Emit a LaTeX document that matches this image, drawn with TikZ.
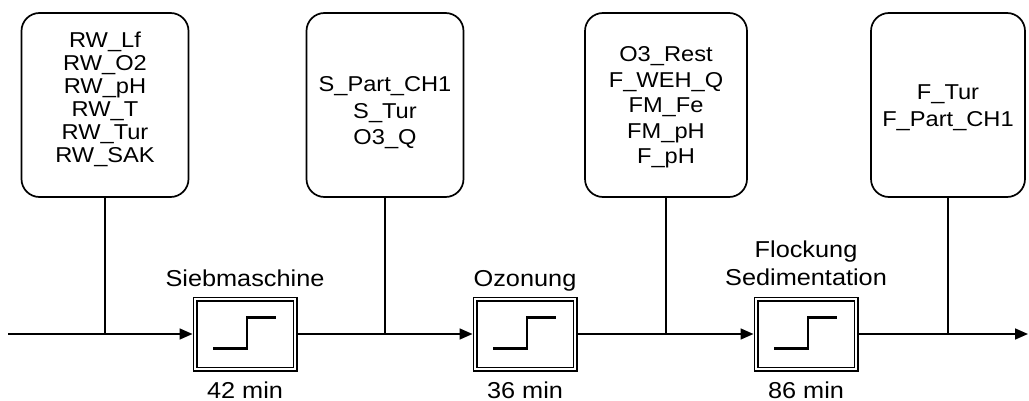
\documentclass[tikz,border=0pt]{standalone}
\usepackage{fontspec}
\setmainfont{Liberation Sans}[FakeStretch=1.1]
\usetikzlibrary{arrows.meta}
\begin{document}
\begin{tikzpicture}[x=1pt,y=-1pt,
  line width=1.7pt,
  sigbox/.style={draw, rounded corners=18pt, line width=1.7pt, minimum height=184pt, inner sep=0pt},
  boxtxt/.style={anchor=base, inner sep=0pt, font=\fontsize{21.5}{23}\selectfont},
  lbl/.style={anchor=base, inner sep=0pt, font=\fontsize{23}{28}\selectfont},
  delay/.style={draw, line width=1.4pt, double, double distance=2.2pt, minimum width=100pt, minimum height=70pt, inner sep=0pt, outer sep=2.5pt},
  flow/.style={-{Triangle[length=13pt,width=11pt]}, line width=1.7pt},
  stepline/.style={line width=2.8pt},
]
\useasboundingbox (0,0) rectangle (1029,401);

% signal boxes
\node[sigbox, minimum width=167pt] (box1) at (105,105) {};
\node[sigbox, minimum width=157pt] (box2) at (385,105) {};
\node[sigbox, minimum width=162pt] (box3) at (666,105) {};
\node[sigbox, minimum width=154pt] (box4) at (948,105) {};

\foreach \t [count=\i] in {RW\_Lf,RW\_O2,RW\_pH,RW\_T,RW\_Tur,RW\_SAK}
  \node[boxtxt] (b1t\i) at (105,{48+23*(\i-1)}) {\t};
\foreach \t [count=\i] in {S\_Part\_CH1,S\_Tur,O3\_Q}
  \node[boxtxt] (b2t\i) at (385,{92+26.5*(\i-1)}) {\t};
\foreach \t [count=\i] in {O3\_Rest,F\_WEH\_Q,FM\_Fe,FM\_pH,F\_pH}
  \node[boxtxt] (b3t\i) at (666,{62+25.5*(\i-1)}) {\t};
\foreach \t [count=\i] in {F\_Tur,F\_Part\_CH1}
  \node[boxtxt] (b4t\i) at (948,{100+27*(\i-1)}) {\t};

% delay blocks
\node[delay] (blk1) at (245,334) {};
\node[delay] (blk2) at (525,334) {};
\node[delay] (blk3) at (806,334) {};
\foreach \b in {blk1,blk2,blk3}
  \draw[stepline] (\b.center) ++(-32,14.5) -- ++(34,0) -- ++(0,-31) -- ++(29,0);

% labels
\node[lbl] (l1) at (245,286) {Siebmaschine};
\node[lbl] (l2) at (525,286) {Ozonung};
\node[lbl] (l3a) at (806,257) {Flockung};
\node[lbl] (l3b) at (806,285) {Sedimentation};
\node[lbl] (t1) at (245,398) {42 min};
\node[lbl] (t2) at (525,398) {36 min};
\node[lbl] (t3) at (806,398) {86 min};

% main flow
\coordinate (start) at (8,334);
\coordinate (end) at (1028,334);
\draw[flow] (start) -- (blk1);
\draw[flow] (blk1) -- (blk2);
\draw[flow] (blk2) -- (blk3);
\draw[flow] (blk3) -- (end);

% taps
\draw (box1.south) -- (box1.south |- start);
\draw (box2.south) -- (box2.south |- start);
\draw (box3.south) -- (box3.south |- start);
\draw (box4.south) -- (box4.south |- start);
\end{tikzpicture}
\end{document}
